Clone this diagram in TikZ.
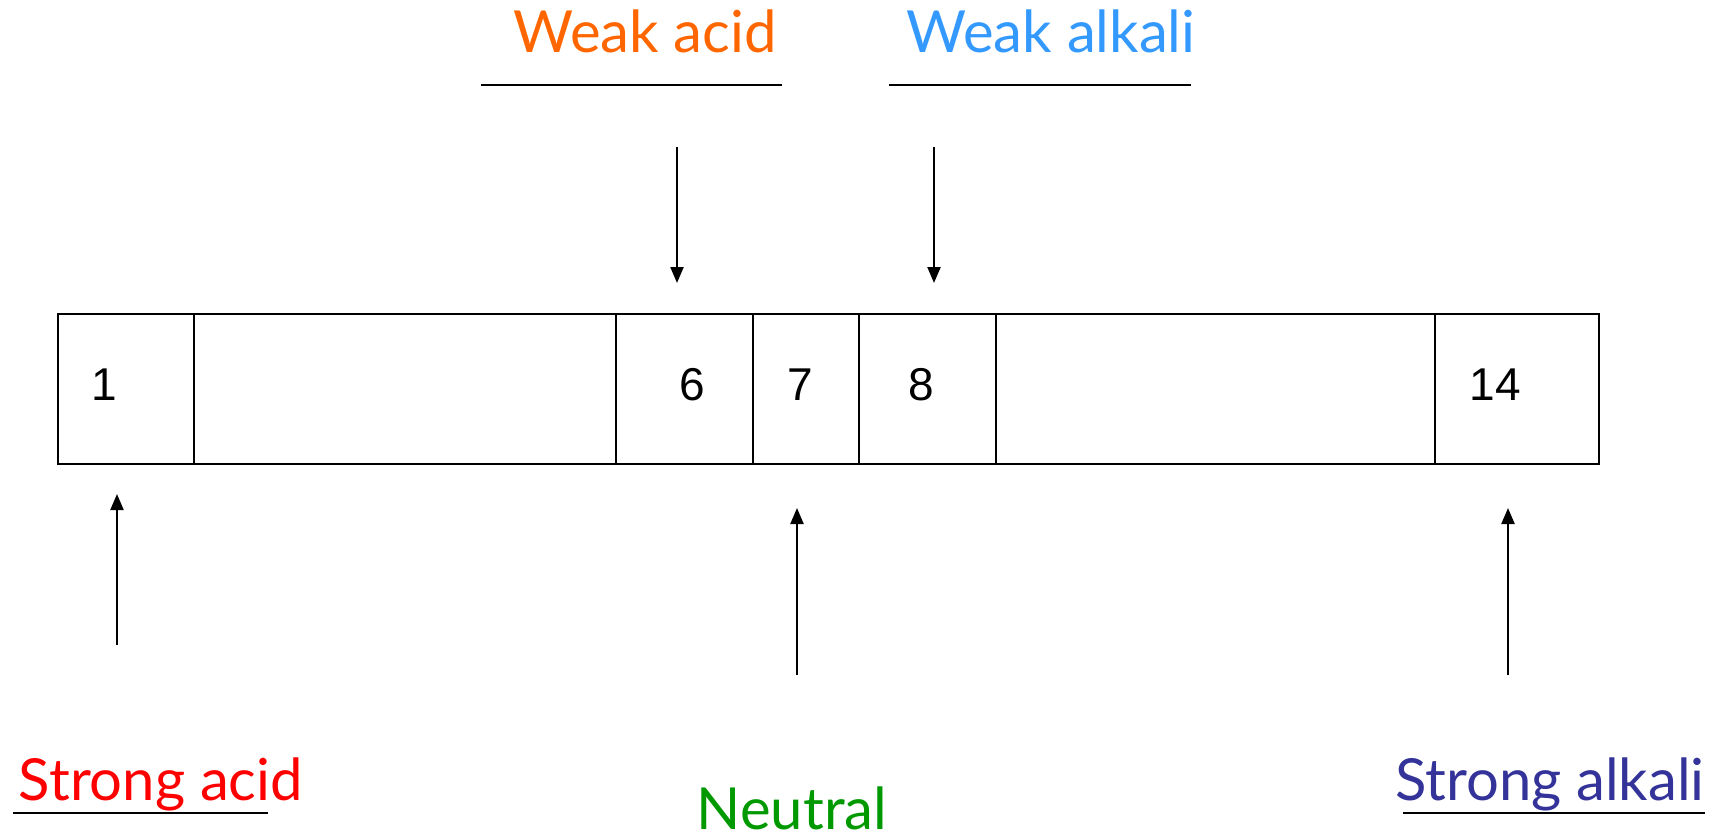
\documentclass[tikz,border=0pt]{standalone}
\usepackage{fontspec}
\setmainfont{Liberation Sans}
\newfontfamily\labelfont{Lato}
\usetikzlibrary{arrows.meta}
\definecolor{weakacid}{HTML}{FF6600}
\definecolor{weakalk}{HTML}{3399FF}
\definecolor{strongacid}{HTML}{FF0000}
\definecolor{neutralc}{HTML}{009900}
\definecolor{strongalk}{HTML}{333399}
\begin{document}
\begin{tikzpicture}[x=1pt,y=-1pt,
  cell/.style={draw, line width=2pt, minimum height=150pt, inner sep=0pt, anchor=north west},
  num/.style={font=\fontsize{46}{50}\selectfont, inner sep=0pt},
  lbl/.style={font=\labelfont\fontsize{58}{64}\selectfont, anchor=base, inner sep=0pt},
  uline/.style={line width=2.2pt},
  arr/.style={line width=2.2pt, -{Triangle[length=16pt,width=13pt]}}
]
\useasboundingbox (0,0) rectangle (1729,840);
% cells
\node[cell, minimum width=136pt] (c1) at (57,313) {};
\node[cell, minimum width=422pt] (c2) at (193,313) {};
\node[cell, minimum width=137pt] (c3) at (615,313) {};
\node[cell, minimum width=106pt] (c4) at (752,313) {};
\node[cell, minimum width=137pt] (c5) at (858,313) {};
\node[cell, minimum width=439pt] (c6) at (995,313) {};
\node[cell, minimum width=164pt] (c7) at (1434,313) {};
% numbers
\node[num] (n1) at (104,385) {1};
\node[num] (n6) at (692,385) {6};
\node[num] (n7) at (800,385) {7};
\node[num] (n8) at (921,385) {8};
\node[num] (n14) at (1495,385) {14};
% labels
\node[lbl, text=weakacid] (wacid) at (645,53) {Weak acid};
\node[lbl, text=weakalk] (walk) at (1051,53) {Weak alkali};
\node[lbl, text=strongacid] (sacid) at (161,800) {Strong acid};
\node[lbl, text=neutralc] (neut) at (792,829) {Neutral};
\node[lbl, text=strongalk] (salk) at (1550,800) {Strong alkali};
% underlines
\coordinate (wa1) at (481,85); \coordinate (wa2) at (782,85);
\coordinate (wk1) at (889,85); \coordinate (wk2) at (1191,85);
\coordinate (sa1) at (13,813); \coordinate (sa2) at (268,813);
\coordinate (sk1) at (1403,813); \coordinate (sk2) at (1705,813);
\draw[uline] (wa1) -- (wa2);
\draw[uline] (wk1) -- (wk2);
\draw[uline] (sa1) -- (sa2);
\draw[uline] (sk1) -- (sk2);
% arrows
\coordinate (d1s) at (677,147); \coordinate (d1e) at (677,283);
\coordinate (d2s) at (934,147); \coordinate (d2e) at (934,283);
\coordinate (u1s) at (117,645); \coordinate (u1e) at (117,494);
\coordinate (u2s) at (797,675); \coordinate (u2e) at (797,508);
\coordinate (u3s) at (1508,675); \coordinate (u3e) at (1508,508);
\draw[arr] (d1s) -- (d1e);
\draw[arr] (d2s) -- (d2e);
\draw[arr] (u1s) -- (u1e);
\draw[arr] (u2s) -- (u2e);
\draw[arr] (u3s) -- (u3e);
\end{tikzpicture}
\end{document}
